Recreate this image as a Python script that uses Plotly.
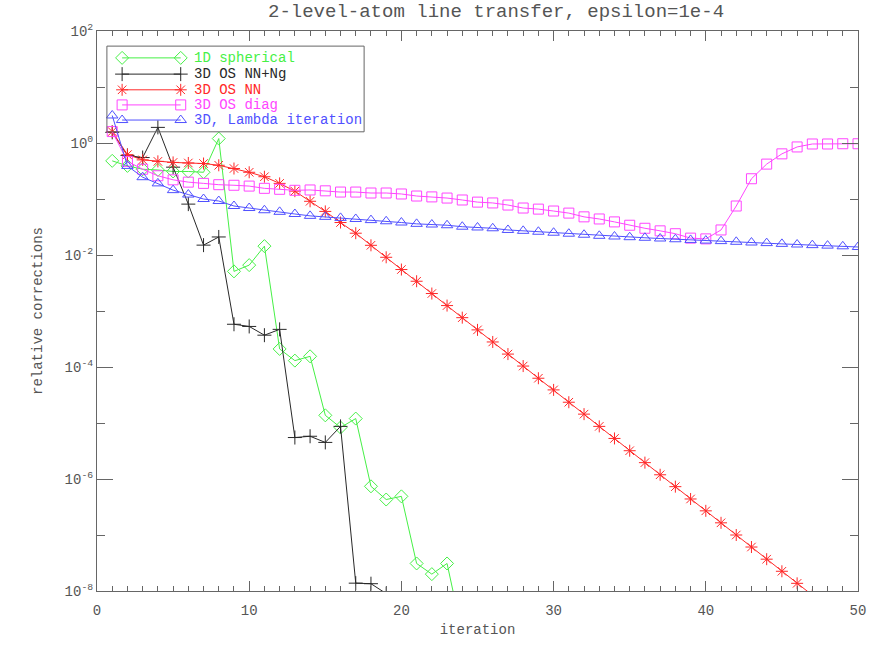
import plotly.graph_objects as go

# ---------------- data ----------------
iterations = list(range(1, 51))

sph_1d = [0.48, 0.39, 0.34, 0.33, 0.31, 0.31, 0.30, 1.2, 5.1e-3, 6.6e-3,
          1.44e-2, 2.1e-4, 1.3e-4, 1.55e-4, 1.37e-5, 8.3e-6, 1.2e-5, 7.4e-7, 4.3e-7, 4.9e-7,
          3.1e-8, 2.0e-8, 3.1e-8, 1.7e-9]

os_nn_ng = [1.55, 0.60, 0.55, 1.9, 0.37, 0.081, 0.015, 0.021, 5.8e-4, 5.3e-4,
            3.7e-4, 4.7e-4, 5.5e-6, 5.8e-6, 4.5e-6, 8.7e-6, 1.38e-8, 1.35e-8, 9.0e-9, 1.0e-9]

os_nn = [1.6, 0.62, 0.50, 0.47, 0.45, 0.44, 0.43, 0.40, 0.35, 0.30,
         0.25, 0.19, 0.138, 0.091, 0.060, 0.038, 0.0245, 0.0149, 9.1e-3, 5.5e-3,
         3.4e-3, 2.05e-3, 1.25e-3, 7.6e-4, 4.6e-4, 2.8e-4, 1.7e-4, 1.04e-4, 6.3e-5, 3.9e-5,
         2.35e-5, 1.44e-5, 8.7e-6, 5.3e-6, 3.2e-6, 1.96e-6, 1.19e-6, 7.3e-7, 4.4e-7, 2.7e-7,
         1.65e-7, 1.0e-7, 6.1e-8, 3.7e-8, 2.25e-8, 1.37e-8, 8.4e-9, 5.1e-9, 3.1e-9, 1.9e-9]

os_diag = [1.6, 0.47, 0.34, 0.26, 0.22, 0.20, 0.19, 0.18, 0.176, 0.17,
           0.155, 0.149, 0.143, 0.145, 0.14, 0.133, 0.133, 0.128, 0.128, 0.123,
           0.113, 0.109, 0.104, 0.096, 0.088, 0.085, 0.078, 0.069, 0.066, 0.061,
           0.056, 0.048, 0.044, 0.039, 0.034, 0.030, 0.027, 0.024, 0.020, 0.0194,
           0.028, 0.075, 0.23, 0.42, 0.64, 0.85, 0.96, 0.96, 0.97, 0.97]

lambda_it = [3.1, 0.39, 0.245, 0.19, 0.144, 0.12, 0.10, 0.092, 0.075, 0.069,
             0.063, 0.059, 0.054, 0.050, 0.048, 0.046, 0.044, 0.042, 0.040, 0.038,
             0.036, 0.035, 0.034, 0.032, 0.031, 0.030, 0.028, 0.027, 0.026, 0.025,
             0.024, 0.023, 0.022, 0.0214, 0.0208, 0.0203, 0.0197, 0.0191, 0.0186, 0.0181,
             0.0177, 0.0172, 0.0167, 0.0163, 0.0158, 0.0154, 0.0150, 0.0147, 0.0143, 0.0139]

series_names = ["1D spherical", "3D OS NN+Ng", "3D OS NN", "3D OS diag", "3D, Lambda iteration"]

y_tickvals = [1e-8, 1e-6, 1e-4, 1e-2, 1e0, 1e2]
y_ticktext = ["10<sup>-8</sup>", "10<sup>-6</sup>", "10<sup>-4</sup>", "10<sup>-2</sup>",
              "10<sup>0</sup>", "10<sup>2</sup>"]
y_minorvals = [1e-7, 1e-5, 1e-3, 1e-1, 1e1]
x_tickvals = [0, 10, 20, 30, 40, 50]

# ---------------- styling ----------------
colors = ["rgb(70,240,70)", "rgb(40,40,40)", "rgb(255,40,40)", "rgb(255,70,255)", "rgb(80,80,255)"]
symbols = ["diamond-open", "cross-thin-open", "asterisk-open", "square-open", "triangle-up-open"]
sizes = [10, 10, 10, 10, 10]
all_data = [sph_1d, os_nn_ng, os_nn, os_diag, lambda_it]

text_col = "#555555"
axis_col = "#666666"
font_fam = "Liberation Mono, DejaVu Sans Mono, monospace"

# legend layout (paper fractions of the plot area)
leg_box = (0.013, 0.820, 0.351, 0.973)
leg_line_x = (0.033, 0.110)
leg_text_x = 0.125
leg_row_y = [0.952, 0.923, 0.895, 0.868, 0.841]

fig = go.Figure()
for name, data, col, sym, sz in zip(series_names, all_data, colors, symbols, sizes):
    fig.add_trace(go.Scatter(
        x=iterations[:len(data)], y=data, mode="lines+markers",
        name=name, showlegend=False,
        line=dict(color=col, width=1),
        marker=dict(symbol=sym, size=sz, color=col, line=dict(color=col, width=1)),
        cliponaxis=True,
    ))

# IDL-style legend: sample line with a symbol at both ends
annotations = []
for name, col, sym, sz, ry in zip(series_names, colors, symbols, sizes, leg_row_y):
    fig.add_trace(go.Scatter(
        x=list(leg_line_x), y=[ry, ry], xaxis="x2", yaxis="y2",
        mode="lines+markers", showlegend=False, hoverinfo="skip",
        line=dict(color=col, width=1),
        marker=dict(symbol=sym, size=sz, color=col, line=dict(color=col, width=1)),
        cliponaxis=False,
    ))
    annotations.append(dict(
        text=name, xref="paper", yref="paper", x=leg_text_x, y=ry,
        xanchor="left", yanchor="middle", showarrow=False,
        font=dict(size=14, family=font_fam, color=col),
    ))

annotations.append(dict(
    text="2-level-atom line transfer, epsilon=1e-4",
    xref="paper", yref="paper", x=0.524, y=1.0, yshift=19,
    xanchor="center", yanchor="middle", showarrow=False,
    font=dict(size=19, family=font_fam, color=text_col),
))

fig.update_layout(
    width=887, height=654,
    margin=dict(l=97, r=29, t=31, b=63, autoexpand=False),
    paper_bgcolor="white", plot_bgcolor="white",
    font=dict(family=font_fam, color=text_col, size=14),
    showlegend=False,
    annotations=annotations,
    shapes=[dict(type="rect", xref="paper", yref="paper",
                 x0=leg_box[0], y0=leg_box[1], x1=leg_box[2], y1=leg_box[3],
                 line=dict(color=axis_col, width=1), fillcolor="rgba(0,0,0,0)")],
    xaxis=dict(
        range=[0, 50], tickvals=x_tickvals, ticks="inside", ticklen=10,
        tickcolor=axis_col, showline=True, linecolor=axis_col, linewidth=1,
        mirror="ticks", showgrid=False, zeroline=False, ticklabelstandoff=6,
        minor=dict(dtick=1, ticks="inside", ticklen=5, tickcolor=axis_col, showgrid=False),
        title=dict(text="iteration", font=dict(size=14), standoff=6),
        tickfont=dict(size=14),
    ),
    yaxis=dict(
        type="log", range=[-8, 2], tickvals=y_tickvals, ticktext=y_ticktext,
        ticks="inside", ticklen=16, tickcolor=axis_col,
        showline=True, linecolor=axis_col, linewidth=1, mirror="ticks",
        showgrid=False, zeroline=False,
        minor=dict(tickvals=y_minorvals, ticks="inside", ticklen=8, tickcolor=axis_col, showgrid=False),
        title=dict(text="relative corrections", font=dict(size=14), standoff=18),
        tickfont=dict(size=14),
    ),
    xaxis2=dict(overlaying="x", range=[0, 1], visible=False, fixedrange=True),
    yaxis2=dict(overlaying="y", range=[0, 1], visible=False, fixedrange=True),
)

fig.write_html("out.html", config={"displayModeBar": False},
               post_script="document.body.style.margin='0';")
